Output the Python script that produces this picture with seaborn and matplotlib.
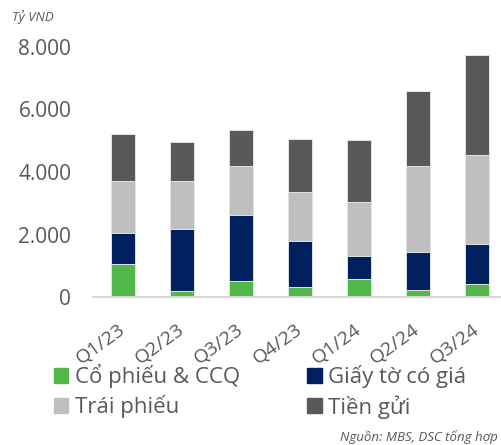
import matplotlib
matplotlib.use("Agg")
import matplotlib.pyplot as plt
import matplotlib.patches as mpatches
import numpy as np
import pandas as pd
import seaborn as sns

# du lieu doc tu bieu do (ty VND)
quy = ["Q1/23", "Q2/23", "Q3/23", "Q4/23", "Q1/24", "Q2/24", "Q3/24"]
co_phieu = [1057, 207, 525, 325, 589, 239, 440]
giay_to = [1007, 1965, 2093, 1474, 733, 1200, 1273]
trai_phieu = [1646, 1538, 1560, 1561, 1729, 2758, 2835]
tien_gui = [1497, 1233, 1166, 1678, 1955, 2370, 3175]

nhan = ["Cổ phiếu & CCQ", "Giấy tờ có giá", "Trái phiếu", "Tiền gửi"]
mau = ["#50B748", "#002060", "#BFBFBF", "#595959"]

sns.set_style("white")
plt.rcParams["font.family"] = ["Open Sans", "DejaVu Sans"]

df = pd.DataFrame({"quy": quy, "cp": co_phieu, "gt": giay_to,
                   "tp": trai_phieu, "tg": tien_gui})
df["c1"] = df["cp"]
df["c2"] = df["c1"] + df["gt"]
df["c3"] = df["c2"] + df["tp"]
df["c4"] = df["c3"] + df["tg"]

fig = plt.figure(figsize=(5.01, 4.45), dpi=100)
ax = fig.add_axes([0.1866, 0.3315, 0.824, 0.564])

# ve tu tren xuong de chong cac doan
for col, c in zip(["c4", "c3", "c2", "c1"], mau[::-1]):
    sns.barplot(data=df, x="quy", y=col, color=c, saturation=1, width=0.41,
                errorbar=None, edgecolor="#E3E3E3", linewidth=0.7, ax=ax)

ax.set_xlim(-0.5, 6.5)
ax.set_ylim(0, 8000)
ax.set_yticks([0, 2000, 4000, 6000, 8000])
ax.set_yticklabels(["0", "2.000", "4.000", "6.000", "8.000"])
ax.set_xlabel("")
ax.set_ylabel("")
for s in ["top", "right", "left"]:
    ax.spines[s].set_visible(False)
ax.spines["bottom"].set_color("#D9D9D9")
ax.spines["bottom"].set_linewidth(1.5)
ax.tick_params(axis="y", length=0, pad=16, labelsize=15, labelcolor="#595959")
ax.tick_params(axis="x", length=0, pad=22, labelsize=14, labelcolor="#595959")
for t in ax.get_xticklabels():
    t.set_rotation(36)
    t.set_ha("right")
    t.set_va("center")
    t.set_rotation_mode("anchor")

# legend dien theo cot -> sap lai de doc theo hang
h = [mpatches.Patch(color=c, label=l) for c, l in zip(mau, nhan)]
handles = [h[0], h[2], h[1], h[3]]
fig.legend(handles=handles, ncol=2, loc="upper left",
           bbox_to_anchor=(0.108, 0.182), frameon=False, fontsize=16,
           handlelength=0.64, handleheight=0.64, handletextpad=0.28,
           columnspacing=3.05, labelspacing=0.32, borderpad=0,
           borderaxespad=0, labelcolor="#595959")

fig.text(0.024, 0.962, "Tỷ VND", fontsize=9.5, style="italic",
         color="#595959", ha="left", va="center")
fig.text(0.993, 0.018, "Nguồn: MBS, DSC tổng hợp", fontsize=9.5,
         style="italic", color="#595959", ha="right", va="center")

fig.savefig("out.png", dpi=100)
